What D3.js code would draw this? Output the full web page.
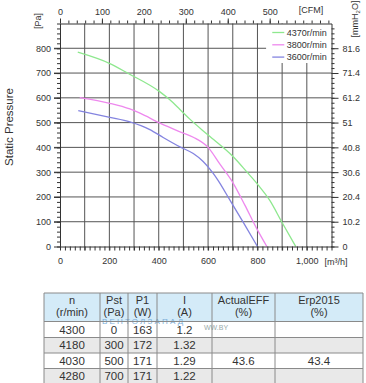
<!DOCTYPE html>
<html>
<head>
<meta charset="utf-8">
<script src="https://cdn.jsdelivr.net/npm/d3@7"></script>
<style>
  body { margin: 0; background: #fff; }
  svg { display: block; font-family: "Liberation Sans", Arial, sans-serif; }
</style>
</head>
<body>
<svg id="chart" width="366" height="383"></svg>
<script>
// airflow [m3/h], static pressure [Pa]
const green4370 = [[72, 784], [202, 738], [277, 698], [405, 624], [445, 592], [486, 553], [526, 514], [600, 450], [702, 362], [756, 302], [803, 248], [850, 186], [898, 100], [955, 0]]
const pink3800 = [[80, 601], [202, 578], [283, 555], [324, 538], [405, 498], [486, 463], [540, 441], [600, 400], [648, 332], [702, 255], [749, 167], [796, 74], [838, 0]]
const blue3600 = [[74, 548], [202, 521], [283, 503], [364, 472], [418, 440], [486, 402], [540, 375], [580, 343], [620, 296], [641, 266], [688, 188], [745, 93], [800, 0]]

const seriesNames = ["4370r/min", "3800r/min", "3600r/min"]
const seriesColors = ["#8ee88e", "#ee88ee", "#8484e0"]

const xTicks = [0, 200, 400, 600, 800, 1000]
const yTicks = [0, 100, 200, 300, 400, 500, 600, 700, 800]
const cfmTicks = [0, 100, 200, 300, 400, 500]
const mmTicks = ["0", "10.2", "20.4", "30.6", "40.8", "51", "61.2", "71.4", "81.6"]

const tableHead = [["n", "(r/min)"], ["Pst", "(Pa)"], ["P1", "(W)"], ["I", "(A)"], ["ActualEFF", "(%)"], ["Erp2015", "(%)"]]
const speedCol = ["4300", "4180", "4030", "4280"]
const pstCol = ["0", "300", "500", "700"]
const p1Col = ["163", "172", "171", "171"]
const currentCol = ["1.2", "1.32", "1.29", "1.22"]
const effCol = ["", "", "43.6", ""]
const erpCol = ["", "", "43.4", ""]

const svg = d3.select("#chart")
const ink = "#333"

const x = d3.scaleLinear().domain([0, 1100]).range([60, 331.5])
const y = d3.scaleLinear().domain([0, 900]).range([246.5, 23.5])
const xCfm = d3.scaleLinear().domain([0, 1100 / 1.699]).range(x.range())
const yMm = d3.scaleLinear().domain([0, 900 / 9.807]).range(y.range())

// grid
const grid = svg.append("g").attr("stroke", "#555").attr("stroke-width", 1)
grid.selectAll(".gx")
  .data(d3.range(100, 1100, 100))
  .join("line")
  .attr("x1", d => x(d)).attr("x2", d => x(d))
  .attr("y1", y(900)).attr("y2", y(0) + 4)
grid.selectAll(".gy")
  .data(d3.range(100, 900, 100))
  .join("line")
  .attr("x1", x(0) - 6).attr("x2", x(1100))
  .attr("y1", d => y(d)).attr("y2", d => y(d))

// curves
const line = d3.line()
  .x(d => x(d[0]))
  .y(d => y(d[1]))
  .curve(d3.curveMonotoneX)

svg.append("g")
  .selectAll("path")
  .data([green4370, pink3800, blue3600])
  .join("path")
  .attr("fill", "none")
  .attr("stroke", (d, i) => seriesColors[i])
  .attr("stroke-width", 1.3)
  .attr("d", line)

// legend
const legend = svg.append("g")
legend.append("rect")
  .attr("x", x(835)).attr("y", y(900) + 0.5)
  .attr("width", x(1100) - x(835) - 0.5).attr("height", 39)
  .attr("fill", "#fff")
const items = legend.selectAll("g")
  .data(seriesNames)
  .join("g")
  .attr("transform", (d, i) => `translate(${x(860)}, ${32.5 + i * 12.3})`)
items.append("line")
  .attr("x1", 0).attr("x2", 12)
  .attr("stroke", (d, i) => seriesColors[i])
  .attr("stroke-width", 1.3)
items.append("text")
  .attr("x", 14.5)
  .attr("dy", "0.35em")
  .attr("font-size", 9)
  .attr("fill", ink)
  .text(d => d)

// axes
function styleAxis(g) {
  g.select(".domain").attr("stroke", ink)
  g.selectAll(".tick line").attr("stroke", ink)
  g.selectAll(".tick text").attr("fill", ink).attr("font-size", 9).attr("font-family", null)
}

const minorX = d3.range(0, 1101, 20)
svg.append("g")
  .attr("transform", `translate(0, ${y(0)})`)
  .call(d3.axisBottom(x).tickValues(minorX).tickSize(4).tickSizeOuter(0).tickFormat(""))
  .call(styleAxis)
svg.append("g")
  .attr("transform", `translate(0, ${y(0)})`)
  .call(d3.axisBottom(x).tickValues(xTicks).tickSize(0).tickPadding(11))
  .call(styleAxis)
  .call(g => g.select(".domain").remove())

const minorY = d3.range(0, 901, 20)
svg.append("g")
  .attr("transform", `translate(${x(0)}, 0)`)
  .call(d3.axisLeft(y).tickValues(minorY).tickSize(3).tickSizeOuter(0).tickFormat(""))
  .call(styleAxis)
svg.append("g")
  .attr("transform", `translate(${x(0)}, 0)`)
  .call(d3.axisLeft(y).tickValues(yTicks).tickSize(6).tickPadding(3))
  .call(styleAxis)
  .call(g => g.select(".domain").remove())

const minorCfm = d3.range(0, 641, 20)
svg.append("g")
  .attr("transform", `translate(0, ${y(900)})`)
  .call(d3.axisTop(xCfm).tickValues(minorCfm).tickSize(3).tickSizeOuter(0).tickFormat(""))
  .call(styleAxis)
svg.append("g")
  .attr("transform", `translate(0, ${y(900)})`)
  .call(d3.axisTop(xCfm).tickValues(cfmTicks).tickSize(5).tickPadding(4))
  .call(styleAxis)
  .call(g => g.select(".domain").remove())

const minorMm = d3.range(0, 91, 2.04)
svg.append("g")
  .attr("transform", `translate(${x(1100)}, 0)`)
  .call(d3.axisRight(yMm).tickValues(minorMm).tickSize(3).tickSizeOuter(0).tickFormat(""))
  .call(styleAxis)
svg.append("g")
  .attr("transform", `translate(${x(1100)}, 0)`)
  .call(d3.axisRight(yMm).tickValues(mmTicks.map(Number)).tickSize(7).tickPadding(4).tickFormat((d, i) => mmTicks[i]))
  .call(styleAxis)
  .call(g => g.select(".domain").remove())

// unit labels
svg.append("text")
  .attr("transform", "translate(13, 127) rotate(-90)")
  .attr("text-anchor", "middle")
  .attr("font-size", 11.5)
  .attr("fill", ink)
  .text("Static Pressure")
svg.append("text")
  .attr("transform", `translate(41, 21) rotate(-90)`)
  .attr("text-anchor", "middle")
  .attr("font-size", 9)
  .attr("fill", ink)
  .text("[Pa]")
const mm = svg.append("text")
  .attr("transform", `translate(358, 19) rotate(-90)`)
  .attr("text-anchor", "middle")
  .attr("font-size", 9)
  .attr("fill", ink)
mm.append("tspan").text("[mmH")
mm.append("tspan").attr("font-size", 6).attr("dy", 2).text("2")
mm.append("tspan").attr("dy", -2).text("O]")
svg.append("text")
  .attr("x", 311).attr("y", 10).attr("dy", "0.35em")
  .attr("text-anchor", "middle")
  .attr("font-size", 9)
  .attr("fill", ink)
  .text("[CFM]")
svg.append("text")
  .attr("x", 336).attr("y", 262).attr("dy", "0.35em")
  .attr("text-anchor", "middle")
  .attr("font-size", 9)
  .attr("fill", ink)
  .text("[m³/h]")

// table
const colEdges = [44, 100, 128, 157, 212, 275, 363]
const rowEdges = [293, 321.5, 337.5, 353, 368.5, 384]
const columns = [speedCol, pstCol, p1Col, currentCol, effCol, erpCol]
const table = svg.append("g")

table.append("rect")
  .attr("x", colEdges[0]).attr("y", rowEdges[0])
  .attr("width", colEdges[6] - colEdges[0]).attr("height", rowEdges[1] - rowEdges[0])
  .attr("fill", "#d4ebf8")
table.selectAll(".row")
  .data(speedCol)
  .join("rect")
  .attr("x", colEdges[0]).attr("y", (d, i) => rowEdges[i + 1])
  .attr("width", colEdges[6] - colEdges[0])
  .attr("height", (d, i) => rowEdges[i + 2] - rowEdges[i + 1])
  .attr("fill", (d, i) => i % 2 ? "#e9e9e9" : "#fff")

const cx = i => (colEdges[i] + colEdges[i + 1]) / 2
tableHead.forEach((h, i) => {
  table.append("text")
    .attr("x", cx(i)).attr("y", 300).attr("dy", "0.35em")
    .attr("text-anchor", "middle").attr("font-size", 11).attr("fill", ink)
    .text(h[0])
  table.append("text")
    .attr("x", cx(i)).attr("y", 312).attr("dy", "0.35em")
    .attr("text-anchor", "middle").attr("font-size", 11).attr("fill", ink)
    .text(h[1])
})

// watermark
table.append("text")
  .attr("x", 102).attr("y", 321.5).attr("dy", "0.35em")
  .attr("font-size", 8).attr("letter-spacing", 2.2).attr("fill", "#7aaed8")
  .text("ВЕНТОЛЗАПАД")
table.append("text")
  .attr("x", 204).attr("y", 328).attr("dy", "0.35em")
  .attr("font-size", 7).attr("fill", "#9aa")
  .text("WW.BY")

columns.forEach((col, i) => {
  table.selectAll(null)
    .data(col)
    .join("text")
    .attr("x", cx(i))
    .attr("y", (d, j) => (rowEdges[j + 1] + rowEdges[j + 2]) / 2)
    .attr("dy", "0.35em")
    .attr("text-anchor", "middle")
    .attr("font-size", 11.5)
    .attr("fill", ink)
    .text(d => d)
})

const borders = table.append("g").attr("stroke", "#8a8a8a").attr("stroke-width", 1)
borders.selectAll(".h")
  .data(rowEdges)
  .join("line")
  .attr("x1", colEdges[0]).attr("x2", colEdges[6])
  .attr("y1", d => d).attr("y2", d => d)
borders.selectAll(".v")
  .data(colEdges)
  .join("line")
  .attr("x1", d => d).attr("x2", d => d)
  .attr("y1", rowEdges[0]).attr("y2", rowEdges[5])
</script>
</body>
</html>
